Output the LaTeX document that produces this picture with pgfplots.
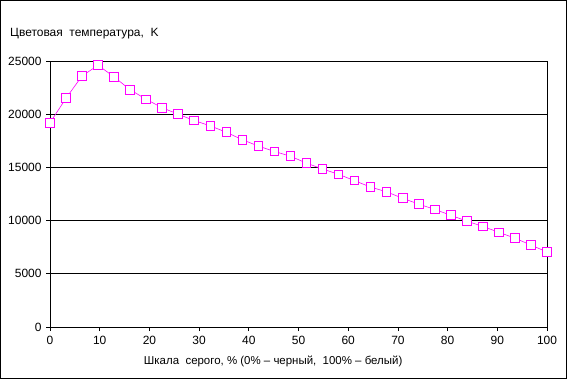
\documentclass[border=0pt]{standalone}
\usepackage{pgfplots}
\pgfplotsset{compat=1.18}
\usepackage{fontspec}
\setmainfont{Liberation Sans}
\definecolor{mag}{RGB}{255,0,255}
\begin{document}
\begin{tikzpicture}
\useasboundingbox (0,0) rectangle (567bp,379bp);
\draw[black, line width=1bp] (0.5bp,0.5bp) rectangle (566.5bp,378.5bp);
\node[anchor=base west, inner sep=0pt, font=\fontsize{12}{14}\selectfont] at (10bp,342bp) {Цветовая\ \ температура,\ \ K};
\begin{axis}[
  at={(50bp,52bp)}, anchor=south west,
  scale only axis, width=497bp, height=266bp,
  xmin=0, xmax=100, ymin=0, ymax=25000,
  xtick={0,10,...,100}, ytick={0,5000,...,25000},
  scaled y ticks=false,
  /pgf/number format/assume math mode=true,
  /pgf/number format/1000 sep={},
  ticklabel style={font=\fontsize{12}{14}\selectfont},
  xticklabel style={yshift=-1.5bp},
  yticklabel style={xshift=-1bp},
  tick align=outside, tick pos=left,
  major tick length=4bp,
  ymajorgrids, grid style={black, line width=0.8bp},
  axis line style={black, line width=0.8bp},
  tick style={black, line width=0.8bp},
  xlabel={Шкала\ \ серого,\ \% (0\% – черный,\ \ 100\% – белый)},
  xlabel style={font=\fontsize{11.5}{14}\selectfont, at={(axis description cs:0.449,0)}, anchor=north, yshift=-25bp},
  clip=false,
]
\addplot[mag, line width=0.6bp, mark=square*, mark size=4.3bp, mark options={fill=white, draw=mag, line width=1bp}] coordinates {
(0,19200) (3.2258,21500) (6.4516,23600) (9.6774,24600) (12.9032,23500) (16.1290,22300)
(19.3548,21400) (22.5806,20600) (25.8065,20000) (29.0323,19400) (32.2581,18900) (35.4839,18300)
(38.7097,17600) (41.9355,17000) (45.1613,16500) (48.3871,16050) (51.6129,15400) (54.8387,14850)
(58.0645,14350) (61.2903,13750) (64.5161,13150) (67.7419,12700) (70.9677,12100) (74.1935,11550)
(77.4194,11050) (80.6452,10500) (83.8710,9950) (87.0968,9450) (90.3226,8900) (93.5484,8350)
(96.7742,7700) (100,7050)
};
\end{axis}
\end{tikzpicture}
\end{document}
